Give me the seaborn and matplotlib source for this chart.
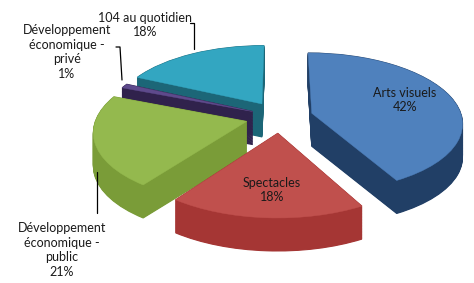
import numpy as np
import matplotlib
matplotlib.use("Agg")
import matplotlib.pyplot as plt
import matplotlib.transforms as mtransforms
from matplotlib.lines import Line2D
import seaborn as sns

# data
categories = ['Arts visuels', 'Spectacles', 'Développement\néconomique -\npublic',
              'Développement\néconomique -\nprivé', '104 au quotidien']
values = [42, 18, 21, 1, 18]
top_colors = ['#4F81BD', '#C0504D', '#94B94E', '#5E4A8C', '#33A6C1']
side_colors = ['#213F66', '#A53634', '#7A9C38', '#30224C', '#1C6677']
explode = [0.22, 0.23, 0.23, 0.2, 0.23]

sns.set_theme(style='white')
plt.rcParams['font.family'] = ['Lato', 'DejaVu Sans']

W, H = 474, 283
fig = plt.figure(figsize=(W / 100, H / 100), dpi=100)
ax = fig.add_axes([0, 0, 1, 1])

# pie geometry in pixels (centre, radii, wall height) and perspective strength
cx, cy, rx, ry, depth, k = 280, 117, 150, 69, 33, 0.13


class Perspective(mtransforms.Transform):
    """simple perspective: back of the disc smaller, front larger"""
    input_dims = output_dims = 2
    is_separable = False
    has_inverse = False

    def __init__(self, k):
        super().__init__()
        self.k = k

    def transform_non_affine(self, xy):
        xy = np.asarray(xy, dtype=float)
        s = 1 + self.k * xy[:, 1]
        return np.column_stack([xy[:, 0] / s, xy[:, 1] / s])


persp = Perspective(k)


def draw_pie(colors, shift, lw):
    wedges, _ = ax.pie(values, explode=explode, colors=colors, startangle=90,
                       counterclock=False, wedgeprops=dict(linewidth=lw))
    tr = persp + mtransforms.Affine2D().translate(0, -shift) + ax.transData
    for w, c in zip(wedges, colors):
        w.set_transform(tr)
        w.set_edgecolor(c)


# side walls: stack of darker pies shifted downward
for d in np.linspace(depth / ry, 0.0, 45):
    draw_pie(side_colors, d, 0.8)

# top faces
draw_pie(top_colors, 0.0, 0.3)

ax.set_aspect('auto')
ax.set_xlim(-cx / rx, (W - cx) / rx)
ax.set_ylim(-(H - cy) / ry, cy / ry)
ax.axis('off')


def px_text(x, y, s):
    fig.text(x / W, 1 - y / H, s, ha='center', va='center', fontsize=9,
             color='#1a1a1a', linespacing=1.25)


def px_line(xs, ys):
    fig.add_artist(Line2D([x / W for x in xs], [1 - y / H for y in ys],
                          color='black', lw=0.9, transform=fig.transFigure))


pct = [f'{v}%' for v in values]
px_text(405, 100, categories[0] + '\n' + pct[0])
px_text(272, 190, categories[1] + '\n' + pct[1])
px_text(62, 250, categories[2] + '\n' + pct[2])
px_text(67, 52, categories[3] + '\n' + pct[3])
px_text(145, 25, categories[4] + '\n' + pct[4])

px_line([97, 97], [172, 213])
px_line([116, 120, 122], [47, 47, 80])
px_line([190, 194, 194], [23, 23, 49])

fig.savefig('out.png', dpi=100)
